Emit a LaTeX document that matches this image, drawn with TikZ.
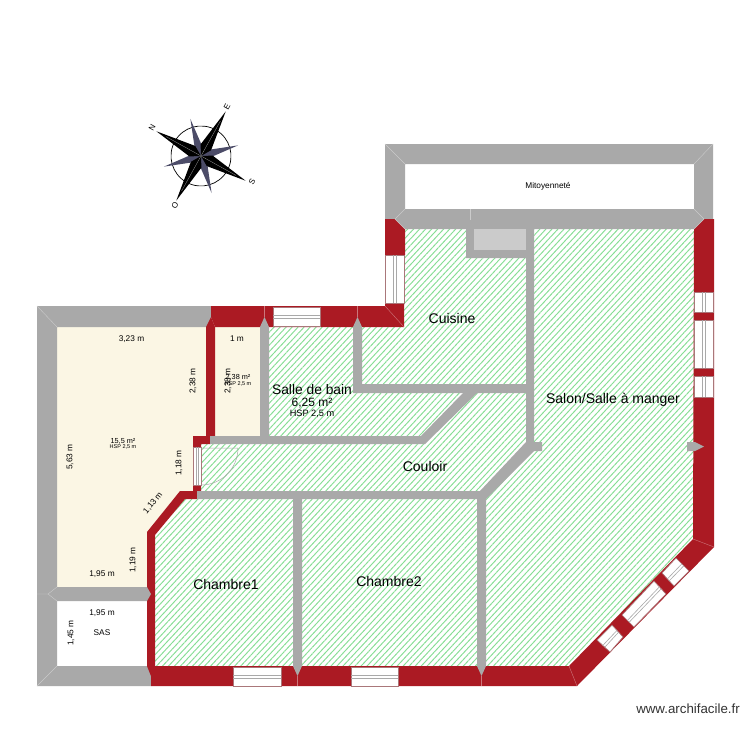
\documentclass[tikz,border=0pt]{standalone}
\usepackage{fontspec}
\setmainfont{Liberation Sans}
\usetikzlibrary{calc,patterns.meta}
\definecolor{gris}{HTML}{A9A9A9}
\definecolor{rouge}{HTML}{AB1A23}
\definecolor{creme}{HTML}{FBF6E4}
\definecolor{hachure}{HTML}{86DE94}
\definecolor{ardoise}{HTML}{4C4C68}
\tikzset{
  mur gris/.style={fill=gris},
  mur rouge/.style={fill=rouge},
  joint gris/.style={draw=gris!60!white,line width=.4pt},
  joint rouge/.style={draw=rouge!60!white,line width=.4pt},
  vitre/.style={fill=white,draw=rouge!35!gris,line width=.7pt},
  trait vitre/.style={draw=gris,line width=.6pt},
  cote/.style={font=\fontsize{8.3}{10}\selectfont},
  piece/.style={font=\fontsize{14}{16}\selectfont},
  surface/.style={font=\fontsize{7.3}{9}\selectfont},
  hsp/.style={font=\fontsize{5.5}{7}\selectfont},
  boussole/.style={font=\fontsize{8}{9}\selectfont,rotate=61}
}
% fenetre : quatre coins, les deux traits vont de la face (1)(2) a la face (4)(3)
\newcommand{\fenetre}[4]{
  \draw[vitre] #1 -- #2 -- #3 -- #4 -- cycle;
  \draw[trait vitre] ($#1!.45!#4$) -- ($#2!.45!#3$);
  \draw[trait vitre] ($#1!.6!#4$) -- ($#2!.6!#3$);
}
\begin{document}
\begin{tikzpicture}[x=1pt,y=-1pt]
    \useasboundingbox (0,0) rectangle (750,750);
    \fill[white] (0,0) rectangle (750,750);
    % Zone hachuree
    \fill[pattern={Lines[angle=47,distance=4.4pt,line width=.95pt]},pattern color=hachure]
      (269,327) -- (404,327) -- (404,229) -- (694,229) -- (694,539) -- (569,666) -- (155,666)
      -- (155,535) -- (185,499) -- (201,499) -- (201,444) -- (269,444) -- cycle;
    % Pieces creme
    \fill[creme] (57,327) -- (206,327) -- (206,436) -- (193,436) -- (193,491) -- (180,491)
      -- (147,532) -- (147,587) -- (57,587) -- cycle;
    \fill[creme] (215,327) rectangle (260,436);
    % Murs gris exterieurs
    \fill[mur gris] (37,306) -- (211,306) -- (211,327) -- (57,327) -- (57,666) -- (151,666)
      -- (151,686) -- (37,686) -- cycle;
    \fill[mur gris,even odd rule] (385,144) rectangle (713,229) (405,164) rectangle (694,209);
    % Murs rouges
    \fill[mur rouge] (211,306) -- (385,306) -- (385,303) -- (404,303) -- (404,327) -- (215,327) -- (211,317) -- cycle;
    \fill[mur rouge] (206,327) -- (211,317) -- (215,327) -- (215,436) -- (210,444) -- (201,444)
      -- (201,448) -- (193,448) -- (193,436) -- (206,436) -- cycle;
    \fill[mur rouge] (147,532) -- (180,491) -- (193,491) -- (193,485) -- (201,485) -- (201,491)
      -- (197,499) -- (185,499) -- (155,535) -- (155,666) -- (151,676) -- (147,666) -- cycle;
    \fill[mur rouge] (385,219) -- (395,219) -- (405,229) -- (405,255) -- (385,255) -- cycle;
    \fill[mur rouge] (694,229) -- (704,219) -- (714,219) -- (714,547) -- (577,686) -- (151,686)
      -- (151,666) -- (569,666) -- (693,539) -- cycle;
    % Murs gris interieurs
    \fill[mur gris] (260,327) -- (264.5,317) -- (269,327) -- (269,436) -- (260,436) -- cycle;
    \fill[mur gris] (210,436) -- (421,436) -- (463,393) -- (477,393) -- (425,444) -- (210,444) -- cycle;
    \fill[mur gris] (353,327) -- (357.5,317) -- (362,327) -- (362,384) -- (526,384) -- (526,393) -- (353,393) -- cycle;
    \fill[mur gris] (526,229) -- (534,229) -- (534,442) -- (542,442) -- (542,451) -- (534,451)
      -- (486,499) -- (486,666) -- (481.5,676) -- (477,666) -- (477,499) -- (197,499)
      -- (197,491) -- (480,491) -- (526,442) -- cycle;
    \fill[mur gris] (293,499) -- (302,499) -- (302,666) -- (297.5,676) -- (293,666) -- cycle;
    \fill[mur gris] (57,587) -- (147,587) -- (151,594) -- (147,601) -- (57,601) -- cycle;
    \fill[mur gris] (687,442) -- (695,442) -- (704,446.5) -- (695,451) -- (687,451) -- cycle;
    \fill[mur gris] (466,229) -- (474,229) -- (474,250) -- (526,250) -- (526,258) -- (466,258) -- cycle;
    \fill[gris!60!white] (474,229) rectangle (526,250);
    % Joints
    \draw[joint gris] (37,306) -- (57,327) (37,686) -- (57,666) (37,594) -- (48,594) (57,587) -- (48,594) -- (57,601);
    \draw[joint gris] (385,144) -- (405,164) (713,144) -- (694,164) (405,209) -- (395,219) -- (405,229) (694,209) -- (704,219) -- (694,229);
    \draw[joint gris] (470,209) -- (470,220);
    \draw[joint rouge] (385,306) -- (404,327) (577,686) -- (569,666) (714,547) -- (693,539);
    \draw[joint rouge] (357.5,306) -- (357.5,317) (264.5,306) -- (264.5,317) (297.5,676) -- (297.5,686) (481.5,676) -- (481.5,686);
    % Fenetres
    \fenetre{(273,307)}{(320,307)}{(320,326)}{(273,326)}
    \fenetre{(233,667)}{(281,667)}{(281,686)}{(233,686)}
    \fenetre{(351,667)}{(398,667)}{(398,686)}{(351,686)}
    \fenetre{(385,255)}{(385,303)}{(404,303)}{(404,255)}
    \fenetre{(694,292)}{(694,312)}{(713,312)}{(713,292)}
    \fenetre{(694,320)}{(694,368)}{(713,368)}{(713,320)}
    \fenetre{(694,376)}{(694,397)}{(713,397)}{(713,376)}
    \fenetre{(597,640)}{(612,625)}{(623,637)}{(610,652)}
    \fenetre{(622,615)}{(654,581)}{(666,594)}{(634,627)}
    \fenetre{(662,573)}{(676,558)}{(689,571)}{(674,586)}
    \fenetre{(193,447)}{(193,485)}{(201,485)}{(201,447)}
    % Porte
    \draw[gris,line width=.5pt] (201,448) -- (238,448) arc[start angle=0,end angle=90,radius=37];
    % Rose des vents
    \begin{scope}[shift={(201,156)},y=1pt,rotate=61]
      \draw[line width=.7pt] (0,0) circle[radius=30];
      \foreach \angle in {45,135,225,315}
        \fill[rotate=\angle,ardoise] (0,0) -- (-4,8) -- (0,38.5) -- (4,8) -- cycle;
      \foreach \angle in {0,90,180,270} {
        \fill[rotate=\angle] (0,0) -- (-6,10) -- (0,51) -- (6,10) -- cycle;
        \draw[rotate=\angle,gris,line width=.25pt] (0,0) -- (0,40);
      }
    \end{scope}
    \node[boussole] (nord) at (152,128) {N};
    \node[boussole] (est) at (227,107) {E};
    \node[boussole] (sud) at (252,182) {S};
    \node[boussole] (ouest) at (175,205) {O};
    % Cotes
    \node[cote] (c323) at (131.5,339) {3,23 m};
    \node[cote] (c1) at (237,339) {1 m};
    \node[cote,rotate=90] (c238a) at (193,381) {2,38 m};
    \node[cote,rotate=90] (c238b) at (228,381) {2,38 m};
    \node[cote,rotate=90] (c563) at (70,457) {5,63 m};
    \node[cote,rotate=90] (c118) at (179,463) {1,18 m};
    \node[cote,rotate=51] (c113) at (153,503) {1,13 m};
    \node[cote,rotate=90] (c119) at (133,560) {1,19 m};
    \node[cote] (c195a) at (102,574) {1,95 m};
    \node[cote] (c195b) at (102,613) {1,95 m};
    \node[cote,rotate=90] (c145) at (71,633) {1,45 m};
    % Surfaces
    \node[surface] (s155) at (123,441) {15,5 m²};
    \node[hsp] (h155) at (123,447) {HSP 2,5 m};
    \node[surface] (s238) at (238,377) {2,38 m²};
    \node[hsp] (h238) at (238,384) {HSP 2,5 m};
    % Pieces
    \node[cote] (mitoyen) at (548,186) {Mitoyenneté};
    \node[cote] (sas) at (102,633) {SAS};
    \node[piece] (cuisine) at (452,318) {Cuisine};
    \node[font=\fontsize{13.8}{16}\selectfont] (bain) at (312,390) {Salle de bain};
    \node[font=\fontsize{12}{14}\selectfont] (s625) at (312,403) {6,25 m²};
    \node[font=\fontsize{9.2}{11}\selectfont] (h625) at (312,414) {HSP 2,5 m};
    \node[piece] (couloir) at (425,466) {Couloir};
    \node[piece] (salon) at (613,400) {Salon/Salle à manger};
    \node[piece] (chambre1) at (226,584) {Chambre1};
    \node[piece] (chambre2) at (389,581) {Chambre2};
    \node[font=\fontsize{13.3}{15}\selectfont,black!80] (site) at (688,709) {www.archifacile.fr};
\end{tikzpicture}
\end{document}
